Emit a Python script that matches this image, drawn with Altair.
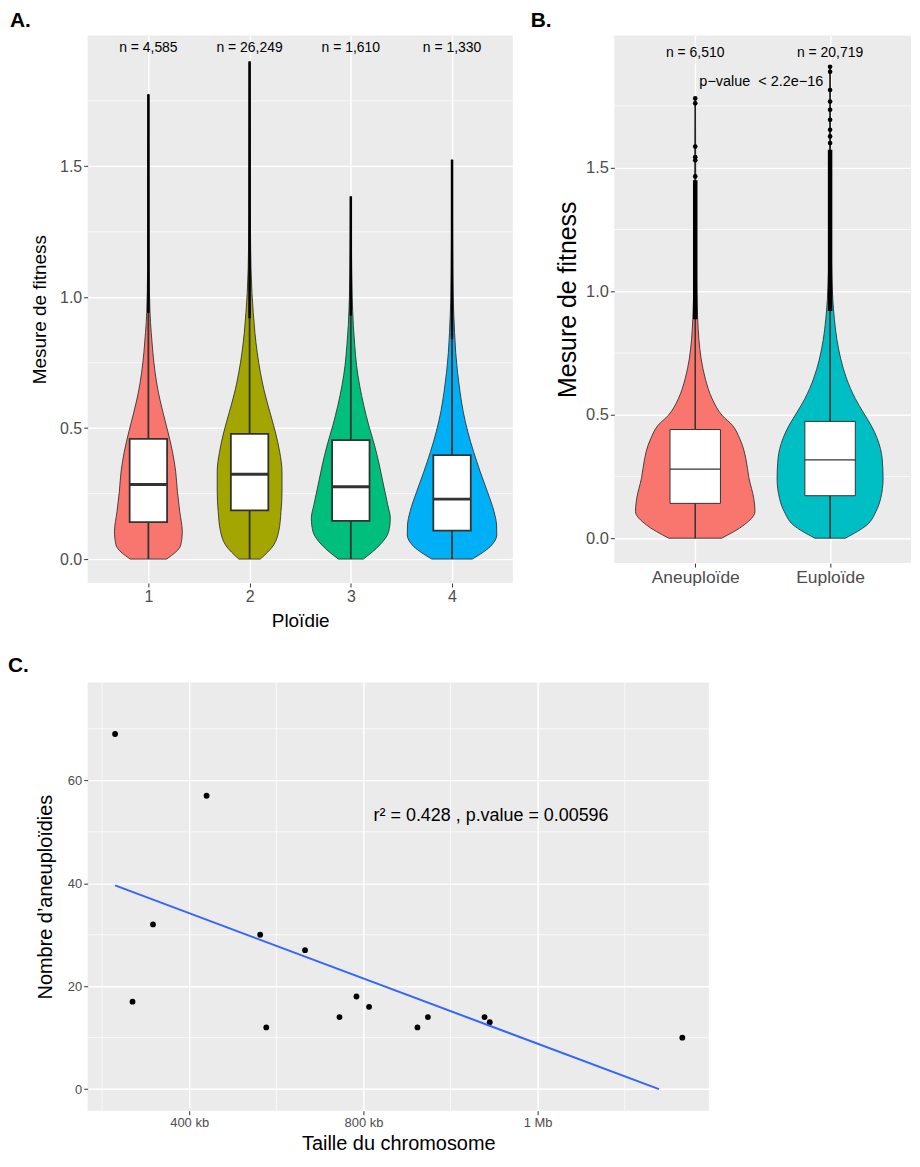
import json
import altair as alt
import numpy as np
import pandas as pd

FONT = "Liberation Sans"

# ---------------- Panel A : fitness by ploidy ----------------
a_groups = [1, 2, 3, 4]
a_labels = ["1", "2", "3", "4"]
a_colors = ["#F8766D", "#A3A500", "#00BF7D", "#00B0F6"]
a_counts = ["n = 4,585", "n = 26,249", "n = 1,610", "n = 1,330"]
a_min = [0.0, 0.0, 0.0, 0.0]
a_q1 = [0.141, 0.186, 0.146, 0.109]
a_med = [0.285, 0.324, 0.276, 0.229]
a_q3 = [0.459, 0.478, 0.454, 0.397]
a_whisk = [0.94, 0.92, 0.93, 0.84]
a_max = [1.775, 1.90, 1.385, 1.525]

a1_y = [0, 0.054, 0.105, 0.181, 0.257, 0.333, 0.41, 0.486, 0.562, 0.638, 0.714, 0.79, 0.866, 0.942, 1.1, 1.3, 1.5, 1.775]
a1_hw = [0.18, 0.32, 0.335, 0.31, 0.287, 0.27, 0.238, 0.193, 0.143, 0.098, 0.066, 0.044, 0.028, 0.016, 0.008, 0.005, 0.003, 0.002]
a2_y = [0, 0.054, 0.105, 0.181, 0.257, 0.333, 0.41, 0.486, 0.562, 0.638, 0.714, 0.79, 0.866, 0.942, 1.018, 1.2, 1.4, 1.6, 1.9]
a2_hw = [0.106, 0.238, 0.287, 0.31, 0.32, 0.32, 0.297, 0.254, 0.2, 0.147, 0.106, 0.075, 0.052, 0.036, 0.023, 0.01, 0.006, 0.004, 0.002]
a3_y = [0, 0.054, 0.105, 0.156, 0.207, 0.283, 0.359, 0.435, 0.511, 0.587, 0.663, 0.739, 0.815, 0.891, 1.0, 1.2, 1.385]
a3_hw = [0.123, 0.287, 0.374, 0.39, 0.365, 0.323, 0.282, 0.234, 0.177, 0.128, 0.087, 0.057, 0.039, 0.025, 0.014, 0.006, 0.002]
a4_y = [0, 0.054, 0.092, 0.13, 0.181, 0.257, 0.333, 0.41, 0.486, 0.562, 0.638, 0.714, 0.79, 0.866, 1.0, 1.2, 1.525]
a4_hw = [0.2, 0.393, 0.442, 0.44, 0.415, 0.35, 0.279, 0.213, 0.156, 0.111, 0.079, 0.054, 0.036, 0.025, 0.012, 0.006, 0.002]

a_yticks = [0.0, 0.5, 1.0, 1.5]
a_yminor = [0.25, 0.75, 1.25, 1.75]
a_label_y = 1.95

# ---------------- Panel B : aneuploid vs euploid ----------------
b_groups = [1, 2]
b_labels = ["Aneuploïde", "Euploïde"]
b_colors = ["#F8766D", "#00BFC4"]
b_counts = ["n = 6,510", "n = 20,719"]
b_min = [0.0, 0.0]
b_q1 = [0.141, 0.172]
b_med = [0.28, 0.317]
b_q3 = [0.44, 0.473]
b_whisk = [0.887, 0.92]
b_dense_top = [1.45, 1.573]
b_max = [1.781, 1.909]
b1_sparse = [1.781, 1.761, 1.586, 1.543, 1.53, 1.465]
b2_sparse = [1.909, 1.889, 1.815, 1.768, 1.735, 1.694, 1.654, 1.627, 1.60]

b1_y = [0, 0.054, 0.108, 0.161, 0.242, 0.323, 0.376, 0.403, 0.457, 0.497, 0.565, 0.645, 0.726, 0.806, 0.887, 1.1, 1.4, 1.781]
b1_hw = [0.196, 0.363, 0.443, 0.434, 0.399, 0.375, 0.35, 0.33, 0.276, 0.2, 0.125, 0.075, 0.044, 0.027, 0.018, 0.008, 0.004, 0.002]
b2_y = [0, 0.054, 0.108, 0.161, 0.242, 0.323, 0.403, 0.457, 0.511, 0.565, 0.645, 0.726, 0.806, 0.887, 0.968, 1.2, 1.5, 1.909]
b2_hw = [0.113, 0.274, 0.34, 0.375, 0.393, 0.386, 0.35, 0.304, 0.244, 0.187, 0.123, 0.079, 0.05, 0.032, 0.02, 0.008, 0.004, 0.002]

b_yticks = [0.0, 0.5, 1.0, 1.5]
b_yminor = [0.25, 0.75, 1.25, 1.75]
b_label_y = 1.965
b_pvalue = "p\u2212value\u00a0 < 2.2e\u221216"
b_pvalue_x = 1.49
b_pvalue_y = 1.848

# ---------------- Panel C : aneuploidies vs chromosome size ----------------
c_size_kb = [230, 270, 317, 440, 563, 577, 666, 745, 784, 813, 924, 948, 1078, 1090, 1532]
c_count = [69, 17, 32, 57, 30, 12, 27, 14, 18, 16, 12, 14, 14, 13, 10]
c_xticks = [400, 800, 1200]
c_xlabels = ["400 kb", "800 kb", "1 Mb"]
c_xminor = [200, 600, 1000, 1400]
c_yticks = [0, 20, 40, 60]
c_yminor = [10, 30, 50, 70]
c_note = "r\u00b2 = 0.428 , p.value = 0.00596"
c_note_x = 1093
c_note_y = 53.1


def label_expr(values, labels):
    expr = "''"
    for v, l in reversed(list(zip(values, labels))):
        expr = f"datum.value == {v} ? {json.dumps(l)} : ({expr})"
    return expr


def violin_df(groups, ys, hws):
    rows = []
    for g, yy, hh in zip(groups, ys, hws):
        for y, h in zip(yy, hh):
            rows.append({"g": g, "y": y, "hw": h})
    return pd.DataFrame(rows)


def violin_panel(groups, colors, counts, vdf, q1, med, q3, vmin, whisk, vmax,
                 ydomain, xdomain, yminor, label_y,
                 box_half, box_sw, med_sw, whisk_sw, out_sw, axis_x, axis_y):
    xs = alt.Scale(domain=xdomain, nice=False, zero=False)
    ys = alt.Scale(domain=ydomain, nice=False, zero=False)
    sdf = pd.DataFrame({"g": groups, "q1": q1, "med": med, "q3": q3, "vmin": vmin,
                        "whisk": whisk, "vmax": vmax, "n": counts})

    minor = alt.Chart(pd.DataFrame({"v": yminor})).mark_rule(
        color="white", strokeWidth=0.7
    ).encode(y=alt.Y("v:Q", scale=ys, axis=axis_y))

    violin = alt.Chart(vdf).transform_calculate(
        lo="datum.g - datum.hw", hi="datum.g + datum.hw"
    ).mark_area(
        orient="horizontal", interpolate="monotone", stroke="#333333", strokeWidth=0.9
    ).encode(
        y=alt.Y("y:Q", scale=ys, axis=axis_y),
        x=alt.X("lo:Q", scale=xs, axis=axis_x),
        x2="hi:Q",
        color=alt.Color("g:N", scale=alt.Scale(domain=groups, range=colors), legend=None),
        detail="g:N",
    )

    whisker = alt.Chart(sdf).mark_rule(color="#333333", strokeWidth=whisk_sw).encode(
        x=alt.X("g:Q", scale=xs, axis=axis_x),
        y=alt.Y("vmin:Q", scale=ys, axis=axis_y),
        y2="vmax:Q",
    )
    outl = alt.Chart(sdf).mark_rule(color="black", strokeWidth=out_sw).encode(
        x=alt.X("g:Q", scale=xs, axis=axis_x),
        y=alt.Y("whisk:Q", scale=ys, axis=axis_y),
        y2="vmax:Q",
    )
    box = alt.Chart(sdf).transform_calculate(
        lo=f"datum.g - {box_half}", hi=f"datum.g + {box_half}"
    ).mark_rect(fill="white", stroke="#333333", strokeWidth=box_sw).encode(
        x=alt.X("lo:Q", scale=xs, axis=axis_x), x2="hi:Q",
        y=alt.Y("q1:Q", scale=ys, axis=axis_y), y2="q3:Q",
    )
    median = alt.Chart(sdf).transform_calculate(
        lo=f"datum.g - {box_half}", hi=f"datum.g + {box_half}"
    ).mark_rule(color="#333333", strokeWidth=med_sw).encode(
        x=alt.X("lo:Q", scale=xs, axis=axis_x), x2="hi:Q",
        y=alt.Y("med:Q", scale=ys, axis=axis_y),
    )
    ntext = alt.Chart(sdf).mark_text(font=FONT, fontSize=14, color="black").encode(
        x=alt.X("g:Q", scale=xs, axis=axis_x),
        y=alt.datum(label_y),
        text="n:N",
    )
    return [minor, violin, whisker, outl, box, median, ntext], xs, ys


# ---- Panel A ----
a_vdf = violin_df(a_groups, [a1_y, a2_y, a3_y, a4_y], [a1_hw, a2_hw, a3_hw, a4_hw])
a_axis_x = alt.Axis(values=a_groups, labelExpr=label_expr(a_groups, a_labels),
                    title="Ploïdie", titleFontSize=19, labelFontSize=16,
                    labelPadding=2, titlePadding=7, grid=True)
a_axis_y = alt.Axis(values=a_yticks, format=".1f", title="Mesure de fitness",
                    titleFontSize=19, labelFontSize=16, labelPadding=2,
                    titlePadding=10, grid=True)
a_layers, a_xs, a_ys = violin_panel(
    a_groups, a_colors, a_counts, a_vdf, a_q1, a_med, a_q3, a_min, a_whisk, a_max,
    [-0.0913, 2.0], [0.4, 4.6], a_yminor, a_label_y,
    0.185, 1.8, 3.0, 1.8, 2.5, a_axis_x, a_axis_y)
chart_a = alt.layer(*a_layers).properties(
    width=427, height=550,
    title=alt.TitleParams("A.", anchor="start", frame="group", dx=-78, offset=4,
                          fontSize=21, fontWeight="bold", font=FONT, color="black"),
)

# ---- Panel B ----
b_vdf = violin_df(b_groups, [b1_y, b2_y], [b1_hw, b2_hw])
b_axis_x = alt.Axis(values=b_groups, labelExpr=label_expr(b_groups, b_labels),
                    title=None, labelFontSize=17.5, labelPadding=2, grid=True)
b_axis_y = alt.Axis(values=b_yticks, format=".1f", title="Mesure de fitness",
                    titleFontSize=25, labelFontSize=16.5, labelPadding=2,
                    titlePadding=5, grid=True)
b_layers, b_xs, b_ys = violin_panel(
    b_groups, b_colors, b_counts, b_vdf, b_q1, b_med, b_q3, b_min, b_whisk, b_dense_top,
    [-0.1008, 2.036], [0.4, 2.6], b_yminor, b_label_y,
    0.187, 1.0, 1.3, 1.0, 4.5, b_axis_x, b_axis_y)
# thin tail up to the maximum
b_tail = alt.Chart(pd.DataFrame({"g": b_groups, "vmax": b_max, "vmin": b_min})).mark_rule(
    color="#1a1a1a", strokeWidth=1.0
).encode(x=alt.X("g:Q", scale=b_xs, axis=b_axis_x),
         y=alt.Y("vmin:Q", scale=b_ys, axis=b_axis_y), y2="vmax:Q")
b_sparse_df = pd.DataFrame(
    {"g": [1] * len(b1_sparse) + [2] * len(b2_sparse), "v": b1_sparse + b2_sparse}
)
b_pts = alt.Chart(b_sparse_df).mark_circle(color="black", size=22, opacity=1).encode(
    x=alt.X("g:Q", scale=b_xs, axis=b_axis_x), y=alt.Y("v:Q", scale=b_ys, axis=b_axis_y)
)
b_p = alt.Chart(pd.DataFrame({"t": [b_pvalue]})).mark_text(
    font=FONT, fontSize=14.5, color="black"
).encode(x=alt.datum(b_pvalue_x), y=alt.datum(b_pvalue_y), text="t:N")
b_layers = b_layers[:2] + [b_tail] + b_layers[2:] + [b_pts, b_p]
chart_b = alt.layer(*b_layers).properties(
    width=298, height=530,
    title=alt.TitleParams("B.", anchor="start", frame="group", dx=-84, offset=4,
                          fontSize=21, fontWeight="bold", font=FONT, color="black"),
)

# ---- Panel C ----
c_xs = alt.Scale(domain=[167, 1593], nice=False, zero=False)
c_ys = alt.Scale(domain=[-4.18, 78.99], nice=False, zero=False)
c_axis_x = alt.Axis(values=c_xticks, labelExpr=label_expr(c_xticks, c_xlabels),
                    title="Taille du chromosome", titleFontSize=20,
                    labelFontSize=13, labelPadding=2, titlePadding=4, grid=True)
c_axis_y = alt.Axis(values=c_yticks, title="Nombre d\u2019aneuploïdies",
                    titleFontSize=20, labelFontSize=13, labelPadding=2,
                    titlePadding=12, grid=True)
cdf = pd.DataFrame({"size": c_size_kb, "count": c_count})
slope, intercept = np.polyfit(c_size_kb, c_count, 1)
x_start = min(c_size_kb)
x_end = -intercept / slope
line_df = pd.DataFrame({"size": [x_start, x_end],
                        "fit": [slope * x_start + intercept, slope * x_end + intercept]})

c_minor_x = alt.Chart(pd.DataFrame({"v": c_xminor})).mark_rule(
    color="white", strokeWidth=0.7).encode(x=alt.X("v:Q", scale=c_xs, axis=c_axis_x))
c_minor_y = alt.Chart(pd.DataFrame({"v": c_yminor})).mark_rule(
    color="white", strokeWidth=0.7).encode(y=alt.Y("v:Q", scale=c_ys, axis=c_axis_y))
c_points = alt.Chart(cdf).mark_circle(color="black", size=34, opacity=1).encode(
    x=alt.X("size:Q", scale=c_xs, axis=c_axis_x),
    y=alt.Y("count:Q", scale=c_ys, axis=c_axis_y),
)
c_line = alt.Chart(line_df).mark_line(color="#3366FF", strokeWidth=2).encode(
    x=alt.X("size:Q", scale=c_xs, axis=c_axis_x), y=alt.Y("fit:Q", scale=c_ys, axis=c_axis_y)
)
c_text = alt.Chart(pd.DataFrame({"t": [c_note]})).mark_text(
    font=FONT, fontSize=18, color="black"
).encode(x=alt.datum(c_note_x), y=alt.datum(c_note_y), text="t:N")
chart_c = alt.layer(c_minor_x, c_minor_y, c_points, c_line, c_text).properties(
    width=624, height=430,
    title=alt.TitleParams("C.", anchor="start", frame="group", dx=-80, offset=6,
                          fontSize=21, fontWeight="bold", font=FONT, color="black"),
)

top = alt.hconcat(chart_a, chart_b, spacing=17).resolve_scale(color="independent")
chart = alt.vconcat(top, chart_c, spacing=24).properties(
    padding=0, background="white"
).configure_view(
    fill="#EBEBEB", strokeWidth=0
).configure_axis(
    domain=False, tickColor="#333333", tickSize=4, tickWidth=1,
    labelColor="#4D4D4D", titleColor="black", gridColor="white", gridWidth=1.4,
    labelFont=FONT, titleFont=FONT, titleFontWeight="normal",
)

chart.save("out.html", embed_options={"renderer": "svg", "actions": False})
